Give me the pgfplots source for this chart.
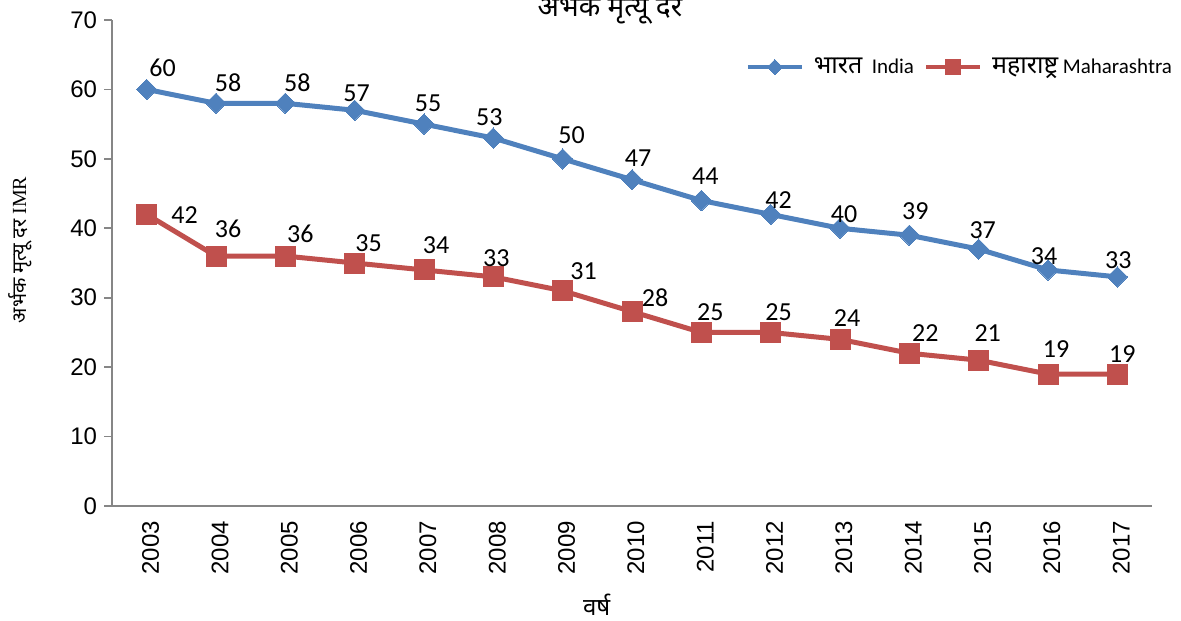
\documentclass[border=0pt]{standalone}
\usepackage{pgfplots}
\usepackage{pgfplotstable}
\pgfplotsset{compat=1.18}
\usepackage{fontspec}
\setmainfont{Carlito}
\newfontfamily\deva[Script=Devanagari]{Noto Sans}
\newfontfamily\arial{Liberation Sans}
\newfontfamily\tnr{Liberation Serif}
\definecolor{indblue}{HTML}{4F81BD}
\definecolor{mahred}{HTML}{C0504D}
\definecolor{axgrey}{HTML}{868686}

\pgfplotstableread{
year imr dx dy
2003 60 8 11
2004 58 6 10.5
2005 58 6 10.5
2006 57 1 8.5
2007 55 2 10.5
2008 53 -2 10.5
2009 50 4.5 12
2010 47 3 11
2011 44 2 12
2012 42 4 7
2013 40 2 7
2014 39 3 12
2015 37 2 9.5
2016 34 -2 7
2017 33 0.5 8.5
}\india

\pgfplotstableread{
year imr dx dy
2003 42 19 -0.5
2004 36 6 13.5
2005 36 7.5 11
2006 35 7 10
2007 34 6 12.5
2008 33 1.5 9.5
2009 31 10.5 10
2010 28 11.5 7
2011 25 4.5 10
2012 25 4 10
2013 24 3.5 10.5
2014 22 8 10
2015 21 4.5 13.5
2016 19 4 12.5
2017 19 2.5 10
}\maha

\begin{document}
\begin{tikzpicture}
\begin{axis}[
  at={(0,0)}, anchor=south west,
  scale only axis,
  width=520pt, height=243pt,
  xmin=2002.5, xmax=2017.5,
  ymin=0, ymax=70,
  ytick={0,10,...,70},
  xtick={2003,...,2017},
  minor xtick={2002.5,2003.5,...,2017.5},
  axis x line*=bottom, axis y line*=left,
  axis line style={axgrey, line width=0.8pt, -},
  every tick/.style={axgrey, line width=0.8pt},
  major tick length=4pt,
  xtick style={draw=none},
  minor tick length=4pt,
  tick align=outside,
  x tick label style={rotate=90, anchor=east, font=\arial\fontsize{12}{14}\selectfont, /pgf/number format/1000 sep={}},
  y tick label style={font=\arial\fontsize{12}{14}\selectfont},
  xticklabel style={yshift=-2pt},
  /pgf/number format/assume math mode=true,
  xticklabel={\pgfmathprintnumber[1000 sep={},fixed]{\tick}},
  xlabel={\deva\fontsize{12}{14}\selectfont वर्ष},
  xlabel style={at={(axis description cs:0.466,-0.204)}, anchor=center},
  ylabel={\deva\fontsize{10}{12}\selectfont अर्भक मृत्यू दर \tnr IMR},
  ylabel style={at={(axis description cs:-0.0885,0.527)}, anchor=center},
  clip=false,
  legend columns=2,
  legend style={draw=none, fill=none, at={(axis description cs:0.609,0.903)}, anchor=west,
    font=\fontsize{10.5}{12}\selectfont, column sep=3pt, inner sep=0pt},
  legend image code/.code={
    \draw[#1, mark=none, line width=2pt] (0cm,0cm) -- (0.95cm,0cm);
    \draw[#1, only marks, every mark/.append style={scale=0.75}] plot coordinates {(0.475cm,0cm)};
  },
  nodes near coords,
  visualization depends on={\thisrow{dx} \as \ldx},
  visualization depends on={\thisrow{dy} \as \ldy},
  nodes near coords style={anchor=center, xshift=\ldx pt, yshift=\ldy pt,
    font=\fontsize{13}{15}\selectfont, text=black},
]
\addplot[indblue, line width=2.5pt, mark=square*, mark size=3.6pt,
  mark options={rotate=45, solid, fill=indblue, draw=indblue, line width=0pt}]
  table[x=year, y=imr] {\india};
\addlegendentry{{\deva\fontsize{12.5}{14}\selectfont भारत}\ \ India}
\addplot[mahred, line width=2.5pt, mark=square*, mark size=5pt,
  mark options={solid, fill=mahred, draw=mahred, line width=0pt}]
  table[x=year, y=imr] {\maha};
\addlegendentry{{\deva\fontsize{12.5}{14}\selectfont महाराष्ट्र} Maharashtra}
\end{axis}
\node[anchor=base, font=\deva\fontsize{14}{16}\selectfont] at (249pt,244.5pt) {अर्भक मृत्यू दर};
\pgfresetboundingbox
\path[use as bounding box] (-56pt,-57pt) rectangle (534.5pt,253pt);
\end{tikzpicture}
\end{document}
